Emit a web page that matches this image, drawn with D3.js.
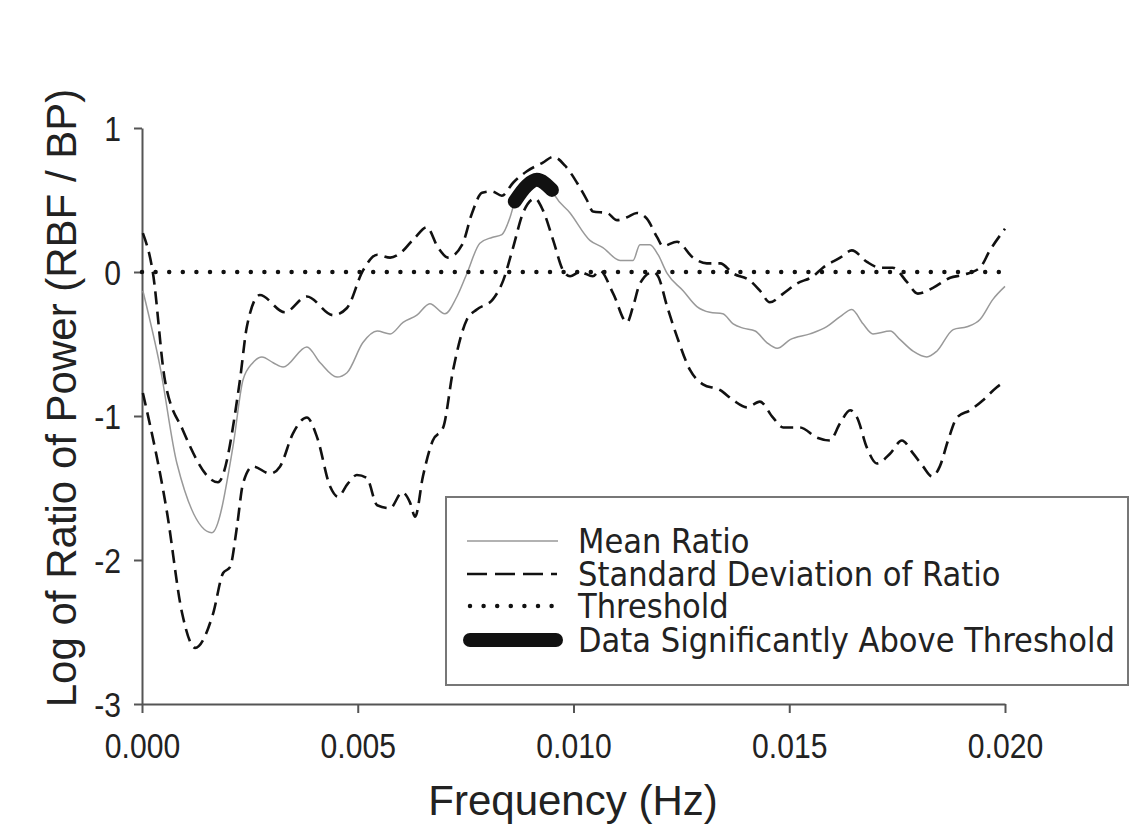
<!DOCTYPE html>
<html>
<head>
<meta charset="utf-8">
<script src="https://cdn.jsdelivr.net/npm/d3@7"></script>
<style>
body { margin: 0; background: #fff; }
</style>
</head>
<body>
<script>
// values (frequency in Hz, log ratio)
var meanFreq = [0.00002,0.00042,0.00081,0.00162,0.00211,0.00234,0.00257,0.00278,0.00304,0.00327,0.00382,0.00413,0.00452,0.00475,0.00512,0.00545,0.00575,0.00605,0.00637,0.00667,0.00702,0.00730,0.00753,0.00783,0.00811,0.00834,0.00853,0.00864,0.00892,0.00915,0.00950,0.00957,0.00992,0.01038,0.01068,0.01108,0.01138,0.01154,0.01177,0.01196,0.01217,0.01254,0.01286,0.01316,0.01346,0.01370,0.01393,0.01421,0.01448,0.01472,0.01502,0.01548,0.01587,0.01618,0.01645,0.01671,0.01694,0.01734,0.01757,0.01787,0.01819,0.01842,0.01880,0.01912,0.01942,0.01972,0.02000]
var meanVal = [-0.13,-0.66,-1.33,-1.81,-1.21,-0.75,-0.63,-0.59,-0.63,-0.66,-0.52,-0.63,-0.73,-0.70,-0.49,-0.41,-0.43,-0.35,-0.30,-0.22,-0.29,-0.17,-0.01,0.20,0.24,0.26,0.38,0.49,0.60,0.64,0.57,0.53,0.41,0.22,0.17,0.08,0.08,0.19,0.19,0.12,-0.01,-0.13,-0.24,-0.28,-0.29,-0.36,-0.39,-0.41,-0.49,-0.53,-0.47,-0.43,-0.38,-0.31,-0.26,-0.36,-0.43,-0.41,-0.47,-0.55,-0.59,-0.55,-0.40,-0.38,-0.33,-0.19,-0.10]

var upperFreq = [0.00002,0.00025,0.00053,0.00095,0.00176,0.00227,0.00243,0.00273,0.00331,0.00382,0.00443,0.00475,0.00512,0.00545,0.00575,0.00598,0.00633,0.00660,0.00686,0.00709,0.00742,0.00765,0.00788,0.00811,0.00834,0.00860,0.00892,0.00929,0.00953,0.00980,0.01008,0.01031,0.01045,0.01078,0.01101,0.01124,0.01147,0.01170,0.01194,0.01207,0.01240,0.01277,0.01309,0.01340,0.01370,0.01409,0.01432,0.01455,0.01486,0.01518,0.01555,0.01578,0.01618,0.01645,0.01680,0.01710,0.01740,0.01773,0.01798,0.01833,0.01873,0.01903,0.01942,0.01965,0.02000]
var upperVal = [0.27,0.00,-0.75,-1.10,-1.46,-0.75,-0.38,-0.16,-0.28,-0.17,-0.30,-0.25,0.01,0.12,0.10,0.13,0.24,0.31,0.17,0.10,0.19,0.41,0.55,0.56,0.53,0.62,0.70,0.76,0.80,0.74,0.62,0.50,0.42,0.41,0.36,0.38,0.41,0.37,0.24,0.18,0.21,0.10,0.06,0.06,-0.01,-0.06,-0.13,-0.21,-0.15,-0.08,-0.03,0.03,0.10,0.15,0.07,0.03,0.03,-0.07,-0.15,-0.11,-0.04,-0.02,0.03,0.15,0.30]

var lowerFreq = [0.00002,0.00058,0.00093,0.00123,0.00165,0.00188,0.00204,0.00220,0.00234,0.00257,0.00297,0.00320,0.00350,0.00382,0.00406,0.00436,0.00454,0.00477,0.00498,0.00521,0.00545,0.00575,0.00603,0.00621,0.00633,0.00651,0.00674,0.00698,0.00721,0.00753,0.00776,0.00813,0.00837,0.00860,0.00883,0.00911,0.00929,0.00953,0.00976,0.00992,0.01015,0.01045,0.01061,0.01092,0.01124,0.01138,0.01154,0.01184,0.01196,0.01217,0.01240,0.01270,0.01300,0.01340,0.01370,0.01402,0.01432,0.01462,0.01486,0.01525,0.01564,0.01594,0.01618,0.01641,0.01657,0.01680,0.01703,0.01734,0.01761,0.01787,0.01810,0.01831,0.01849,0.01868,0.01889,0.01919,0.01949,0.01981,0.02000]
var lowerVal = [-0.84,-1.67,-2.37,-2.61,-2.37,-2.09,-2.05,-1.77,-1.47,-1.35,-1.40,-1.35,-1.12,-1.01,-1.15,-1.49,-1.56,-1.47,-1.41,-1.43,-1.62,-1.64,-1.53,-1.60,-1.70,-1.42,-1.17,-1.08,-0.68,-0.33,-0.26,-0.19,-0.06,0.17,0.41,0.51,0.43,0.22,0.01,-0.03,0.00,-0.03,0.01,-0.15,-0.35,-0.24,-0.08,0.00,-0.03,-0.24,-0.45,-0.68,-0.78,-0.82,-0.89,-0.94,-0.90,-1.01,-1.08,-1.08,-1.15,-1.17,-1.05,-0.96,-1.01,-1.22,-1.33,-1.26,-1.17,-1.26,-1.35,-1.42,-1.35,-1.17,-1.01,-0.96,-0.89,-0.80,-0.76]

var threshold = 0
var sigRange = [0.00864, 0.00950]

var xTicks = [0, 0.005, 0.010, 0.015, 0.020]
var yTicks = [1, 0, -1, -2, -3]
var legendLabels = ["Mean Ratio", "Standard Deviation of Ratio", "Threshold", "Data Significantly Above Threshold"]

var width = 1148
var height = 831

var svg = d3.select("body").append("svg")
	.attr("width", width)
	.attr("height", height)

var x = d3.scaleLinear().domain([0, 0.02]).range([142, 1005])
var y = d3.scaleLinear().domain([-3, 1]).range([704, 128])

function zip(f, v) {
	return f.map(function(d, i) { return [d, v[i]] })
}
var mean = zip(meanFreq, meanVal)
var upper = zip(upperFreq, upperVal)
var lower = zip(lowerFreq, lowerVal)
var sig = mean.filter(function(d) { return d[0] >= sigRange[0] && d[0] <= sigRange[1] })

var line = d3.line()
	.x(function(d) { return x(d[0]) })
	.y(function(d) { return y(d[1]) })
	.curve(d3.curveMonotoneX)

var tickFont = "'Liberation Sans', Arial, sans-serif"
var titleFont = "'Liberation Sans', Arial, sans-serif"
var legendFont = "'DejaVu Sans Condensed', 'DejaVu Sans', sans-serif"

// axes
var yAxis = svg.append("g")
	.attr("transform", "translate(142,0)")
	.call(d3.axisLeft(y).tickValues(yTicks).tickSize(8).tickSizeOuter(0).tickPadding(13)
		.tickFormat(function(d) { return String(d) }))
var xAxis = svg.append("g")
	.attr("transform", "translate(0,704)")
	.call(d3.axisBottom(x).tickValues(xTicks).tickSize(9).tickSizeOuter(0).tickPadding(14)
		.tickFormat(d3.format(".3f")))

svg.selectAll(".domain, .tick line").attr("stroke", "#555").attr("stroke-width", 2)
svg.selectAll(".tick text")
	.attr("fill", "#222")
	.style("font-family", tickFont)
	.style("font-size", "35px")
// tick digits in the figure are narrower than plain Arial
svg.selectAll(".tick text").each(function() {
	var w = this.getComputedTextLength()
	d3.select(this).attr("textLength", w * 0.86).attr("lengthAdjust", "spacingAndGlyphs")
})
yAxis.selectAll(".tick text").attr("dy", "0.36em")
xAxis.selectAll(".tick text").attr("dy", "0.88em")

svg.append("text")
	.attr("x", 573).attr("y", 815)
	.attr("text-anchor", "middle")
	.attr("fill", "#222")
	.style("font-family", titleFont)
	.style("font-size", "42px")
	.text("Frequency (Hz)")

svg.append("text")
	.attr("transform", "translate(76,398) rotate(-90)")
	.attr("text-anchor", "middle")
	.attr("fill", "#222")
	.style("font-family", titleFont)
	.style("font-size", "42px")
	.text("Log of Ratio of Power (RBF / BP)")

// lines
svg.append("path").datum(mean)
	.attr("d", line)
	.attr("fill", "none")
	.attr("stroke", "#999")
	.attr("stroke-width", 1.5)

;[upper, lower].forEach(function(s) {
	svg.append("path").datum(s)
		.attr("d", line)
		.attr("fill", "none")
		.attr("stroke", "#111")
		.attr("stroke-width", 2.6)
		.attr("stroke-dasharray", "13,7")
})

svg.append("line")
	.attr("x1", x(0)).attr("x2", x(0.02))
	.attr("y1", y(threshold)).attr("y2", y(threshold))
	.attr("stroke", "#111")
	.attr("stroke-width", 4.5)
	.attr("stroke-linecap", "round")
	.attr("stroke-dasharray", "0,13.6")

svg.append("path").datum(sig)
	.attr("d", line)
	.attr("fill", "none")
	.attr("stroke", "#111")
	.attr("stroke-width", 14)
	.attr("stroke-linecap", "round")
	.attr("stroke-linejoin", "round")

// legend
var lg = svg.append("g")
lg.append("rect")
	.attr("x", 446).attr("y", 497).attr("width", 682).attr("height", 188)
	.attr("fill", "#fff").attr("stroke", "#777").attr("stroke-width", 2)

var rowY = [541, 574, 606, 640]
var styles = [
	{stroke: "#999", w: 1.5, dash: null, cap: "butt", x1: 467, x2: 558},
	{stroke: "#111", w: 2.6, dash: "20,8", cap: "butt", x1: 467, x2: 557},
	{stroke: "#111", w: 4.5, dash: "0,13.6", cap: "round", x1: 470, x2: 555},
	{stroke: "#111", w: 14, dash: null, cap: "round", x1: 470, x2: 556}
]
legendLabels.forEach(function(t, i) {
	var s = styles[i]
	lg.append("line")
		.attr("x1", s.x1).attr("x2", s.x2)
		.attr("y1", rowY[i]).attr("y2", rowY[i])
		.attr("stroke", s.stroke)
		.attr("stroke-width", s.w)
		.attr("stroke-linecap", s.cap)
		.attr("stroke-dasharray", s.dash)
	lg.append("text")
		.attr("x", 578).attr("y", rowY[i] + 12)
		.attr("fill", "#222")
		.style("font-family", legendFont)
		.style("font-size", "34px")
		.text(t)
})
</script>
</body>
</html>
